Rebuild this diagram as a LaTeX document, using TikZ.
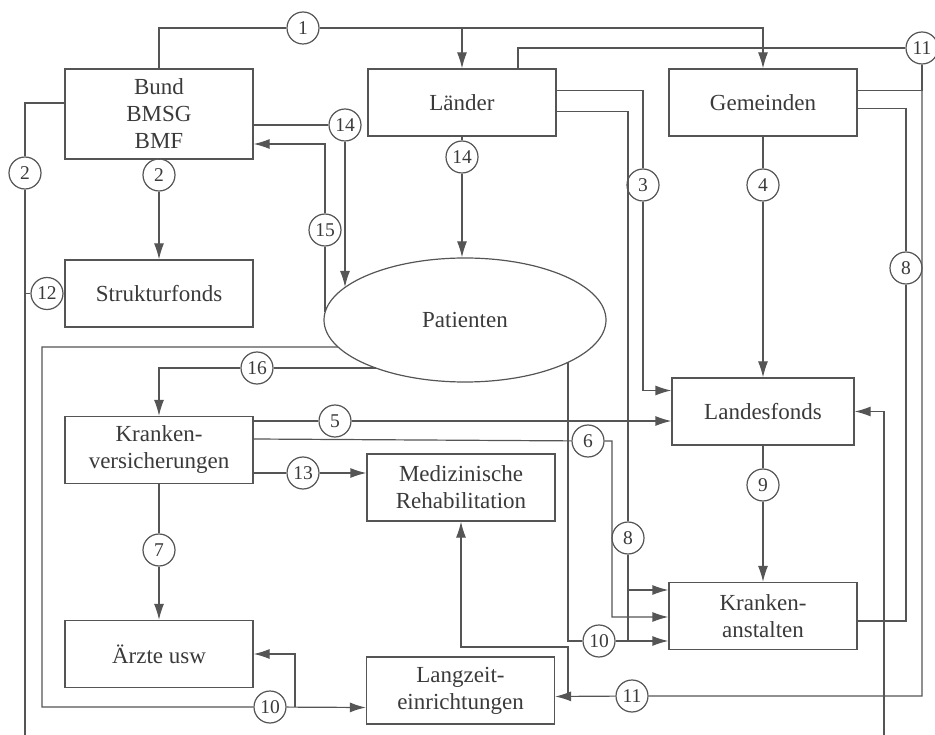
\documentclass[tikz,border=0pt]{standalone}
\usepackage{fontspec}
\setmainfont{Liberation Serif}
\usepackage{tikz}
\usetikzlibrary{shapes.geometric,arrows.meta}
\definecolor{ink}{HTML}{555555}
\definecolor{txt}{HTML}{3A3A3A}
\newcommand{\boxfont}{\fontsize{23}{27}\selectfont}
\newcommand{\numfont}{\fontsize{19.5}{19.5}\selectfont}
\tikzstyle{box}=[draw=ink,rectangle,minimum width=188pt,minimum height=67pt,inner sep=0pt,align=center,text=txt,font=\boxfont]
\tikzstyle{num}=[draw=ink,circle,fill=white,minimum size=32pt,inner sep=0pt,text=txt,font=\numfont]
\newcommand{\newBox}[4]{\node[box,#3](#1) at #4 {#2};}
\newcommand{\newNum}[3]{\node[num](#1) at #3 {#2};}

\begin{document}
\begin{tikzpicture}[x=1pt,y=-1pt,
      >={Latex[length=16pt,width=10pt]},
      line width=1.2pt,color=ink
      ]
      \useasboundingbox (0,0) rectangle (935,735);
      \clip (0,0) rectangle (935,735);
      % boxes
      \newBox{Bund}{Bund\\BMSG\\BMF}{minimum height=90pt}{(159,114)}
      \newBox{Str}{Strukturfonds}{}{(159,293.5)}
      \newBox{Kv}{Kranken-\\versicherungen}{}{(159,450)}
      \newBox{Ae}{Ärzte usw}{}{(159,654)}
      \newBox{Lae}{Länder}{}{(462,102.5)}
      \newBox{MR}{Medizinische\\Rehabilitation}{}{(461,487.5)}
      \newBox{Lz}{Langzeit-\\einrichtungen}{}{(460.5,690.5)}
      \newBox{Gem}{Gemeinden}{}{(763,102.5)}
      \newBox{LF}{Landesfonds}{minimum width=182pt}{(763,411.5)}
      \newBox{KA}{Kranken-\\anstalten}{}{(763,616)}
      \node[draw=ink,ellipse,minimum width=282pt,minimum height=124pt,inner sep=0pt,
            text=txt,font=\boxfont](Pat) at (465,320) {Patienten};

      % numbered flows
      \newNum{l1}{1}{(303,28)}
      \newNum{l2a}{2}{(159,175)}
      \newNum{l2b}{2}{(25,173)}
      \newNum{l3}{3}{(643,185)}
      \newNum{l4}{4}{(763,185)}
      \newNum{l5}{5}{(335,421)}
      \newNum{l6}{6}{(588,441)}
      \newNum{l7}{7}{(159,550)}
      \newNum{l8a}{8}{(628,538)}
      \newNum{l8b}{8}{(906,268)}
      \newNum{l9}{9}{(763,485)}
      \newNum{l10a}{10}{(270,707)}
      \newNum{l10b}{10}{(599,641)}
      \newNum{l11a}{11}{(922,48)}
      \newNum{l11b}{11}{(632,696)}
      \newNum{l12}{12}{(47,293.5)}
      \newNum{l13}{13}{(303,473)}
      \newNum{l14a}{14}{(345,125)}
      \newNum{l14b}{14}{(462,157)}
      \newNum{l15}{15}{(325,230)}
      \newNum{l16}{16}{(257,368)}

      % points on the ellipse and corners
      \coordinate (p14) at (345,287);
      \coordinate (p15) at (325,312);
      \coordinate (p16) at (376,368);
      \coordinate (p10a) at (338,347);
      \coordinate (p10b) at (568,362);
      \coordinate (c10a) at (42,347);
      \coordinate (j10) at (295,707);
      \coordinate (c6) at (612,617);
      \coordinate (j11) at (568,696);
      \coordinate (r11) at (568,647);
      \coordinate (botL) at (25,745);
      \coordinate (botR) at (884,745);

      \draw[->] (Bund.north) |- (l1) -| (Gem.north);
      \draw[->] (Lae.north |- l1) -- (Lae.north);
      \draw[->] (Bund.south) -- (l2a) -- (Str.north);
      \draw[->] ([yshift=11pt]Bund.west) -| (l2b) -- (botL) -- (botR) |- (LF.east);
      \draw (l2b |- l12) -- (l12) -- (Str.west);
      \draw[->] ([yshift=12pt]Lae.east) -| (l3) |- ([yshift=21pt]LF.west);
      \draw[->] (Gem.south) -- (l4) -- (LF.north);
      \draw[->] ([yshift=29pt]Kv.east) -- (l5) -- (LF.west |- l5);
      \draw[->] ([yshift=11pt]Kv.east) -- (l6) -| (c6) -- (KA.west |- c6);
      \draw[->] (Kv.south) -- (l7) -- (Ae.north);
      \draw[->] ([yshift=-9pt]Lae.east) -| (l8a) |- ([yshift=26pt]KA.west);
      \draw (l8a) -- (l8a |- l10b);
      \draw ([yshift=-6pt]Gem.east) -| (l8b) |- ([yshift=-5pt]KA.east);
      \draw[->] (LF.south) -- (l9) -- (KA.north);
      \draw[->] (p10a) -- (c10a) |- (l10a) -- ([yshift=-17pt]Lz.west);
      \draw[->] (j10) |- (Ae.east);
      \draw[->] (p10b) |- (l10b) -- (KA.west |- l10b);
      \draw ([xshift=56pt]Lae.north) |- (l11a);
      \draw ([yshift=12pt]Gem.east) -| (l11a);
      \draw[->] (l11a) |- (l11b) -- ([yshift=-6pt]Lz.east);
      \draw[->] (j11) -- (r11) -| (MR.south);
      \draw[->] ([yshift=-23pt]Kv.east) -- (l13) -- (MR.west |- l13);
      \draw[->] ([yshift=-11pt]Bund.east) -- (l14a) -- (p14);
      \draw[->] (Lae.south) -- (l14b) -- (l14b |- Pat.north);
      \draw[->] (p15) -- (l15) |- ([yshift=-30pt]Bund.east);
      \draw[->] (p16) -- (l16) -| (Kv.north);
    \end{tikzpicture}
\end{document}
